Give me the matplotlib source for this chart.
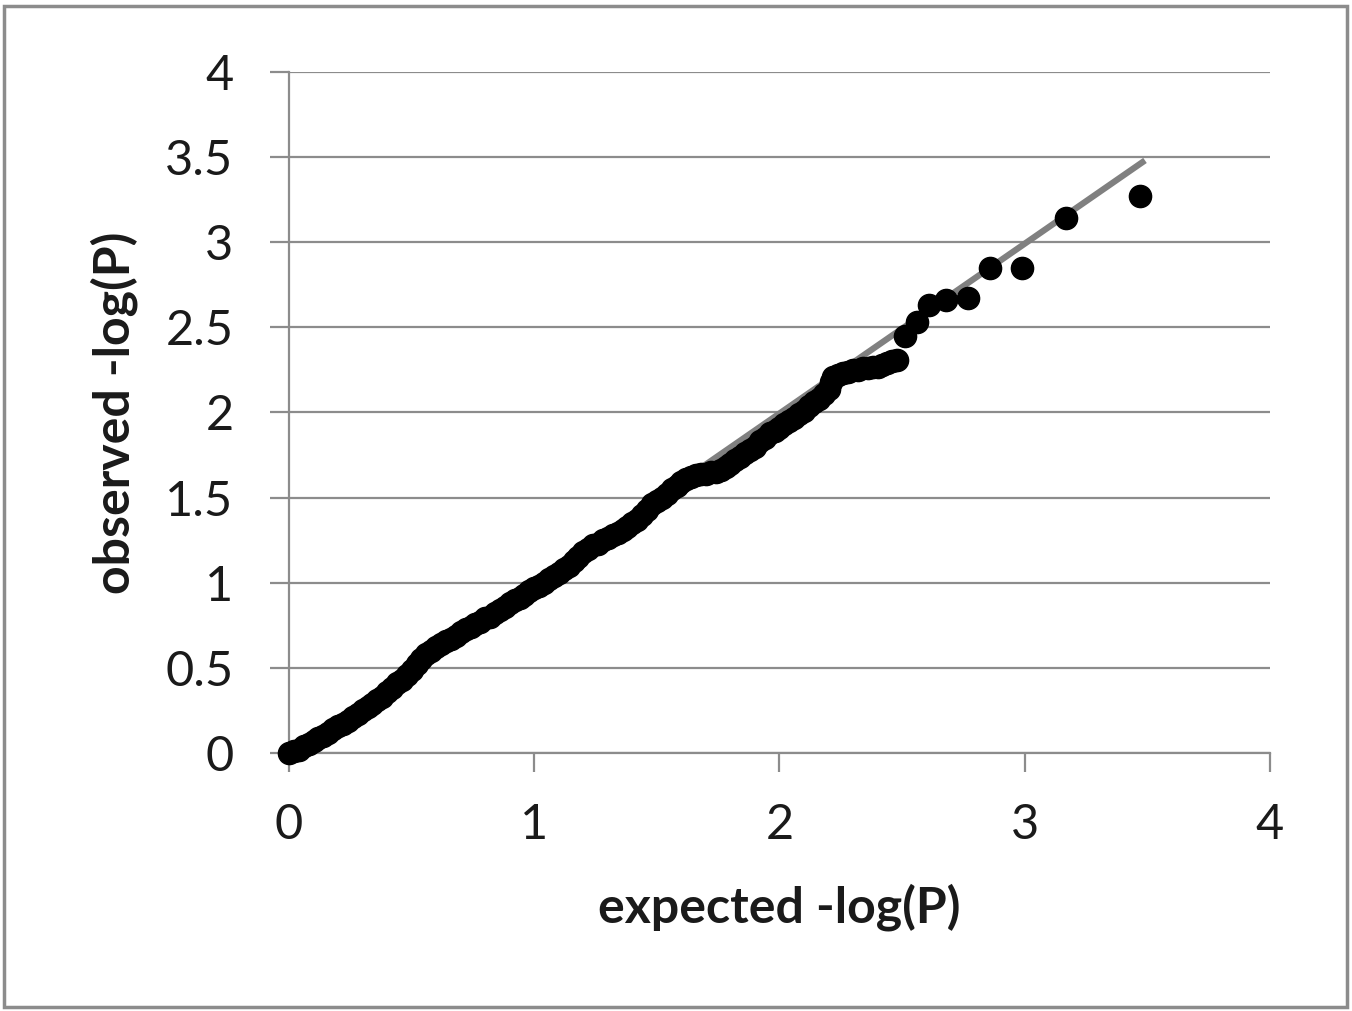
import matplotlib.pyplot as plt
from matplotlib.patches import Rectangle

# expected vs observed -log(P)
expected = [0.00, 0.02, 0.04, 0.06, 0.08, 0.10, 0.12, 0.14, 0.16, 0.18,
            0.20, 0.22, 0.24, 0.26, 0.28, 0.30, 0.32, 0.34, 0.36, 0.38,
            0.40, 0.42, 0.44, 0.46, 0.48, 0.50, 0.52, 0.54, 0.56, 0.58,
            0.60, 0.62, 0.64, 0.66, 0.68, 0.70, 0.72, 0.74, 0.76, 0.78,
            0.80, 0.82, 0.84, 0.86, 0.88, 0.90, 0.92, 0.94, 0.96, 0.98,
            1.00, 1.02, 1.04, 1.06, 1.08, 1.10, 1.12, 1.14, 1.16, 1.18,
            1.20, 1.22, 1.24, 1.26, 1.28, 1.30, 1.32, 1.34, 1.36, 1.38,
            1.40, 1.42, 1.44, 1.46, 1.48, 1.50, 1.52, 1.54, 1.56, 1.58,
            1.60, 1.62, 1.64, 1.66, 1.68, 1.70, 1.72, 1.74, 1.76, 1.78,
            1.80, 1.82, 1.84, 1.86, 1.88, 1.90, 1.92, 1.94, 1.96, 1.98,
            2.00, 2.02, 2.04, 2.06, 2.08, 2.10, 2.12, 2.14, 2.16, 2.18,
            2.20, 2.21, 2.22, 2.24, 2.26, 2.28, 2.30, 2.32, 2.34, 2.36,
            2.38, 2.40, 2.42, 2.44, 2.46, 2.48,
            2.51, 2.56, 2.61, 2.68, 2.77, 2.86, 2.99, 3.17, 3.47]
observed = [0.00, 0.01, 0.02, 0.04, 0.05, 0.07, 0.09, 0.10, 0.12, 0.14,
            0.16, 0.17, 0.19, 0.21, 0.23, 0.25, 0.27, 0.29, 0.31, 0.33,
            0.36, 0.38, 0.41, 0.43, 0.46, 0.49, 0.52, 0.55, 0.58, 0.60,
            0.62, 0.64, 0.66, 0.67, 0.69, 0.71, 0.73, 0.74, 0.76, 0.77,
            0.79, 0.80, 0.82, 0.84, 0.86, 0.88, 0.90, 0.91, 0.93, 0.95,
            0.97, 0.98, 1.00, 1.02, 1.04, 1.06, 1.08, 1.10, 1.13, 1.15,
            1.18, 1.20, 1.22, 1.23, 1.25, 1.26, 1.28, 1.29, 1.31, 1.33,
            1.35, 1.37, 1.40, 1.43, 1.46, 1.48, 1.50, 1.52, 1.55, 1.57,
            1.59, 1.61, 1.62, 1.63, 1.64, 1.64, 1.65, 1.65, 1.66, 1.68,
            1.70, 1.72, 1.74, 1.76, 1.78, 1.80, 1.83, 1.85, 1.88, 1.89,
            1.91, 1.93, 1.95, 1.97, 1.99, 2.01, 2.04, 2.06, 2.08, 2.11,
            2.14, 2.18, 2.21, 2.22, 2.23, 2.24, 2.25, 2.25, 2.26, 2.26,
            2.27, 2.27, 2.28, 2.29, 2.30, 2.31,
            2.45, 2.53, 2.63, 2.66, 2.67, 2.85, 2.85, 3.14, 3.27]

# reference line y = x
ref_x = [0.0, 3.48]
ref_y = [0.0, 3.47]

ticks_x = [0, 1, 2, 3, 4]
ticks_y = [0, 0.5, 1, 1.5, 2, 2.5, 3, 3.5, 4]
tick_labels_y = ['0', '0.5', '1', '1.5', '2', '2.5', '3', '3.5', '4']

plt.rcParams['font.family'] = ['Lato', 'DejaVu Sans']

fig = plt.figure(figsize=(13.52, 10.11), dpi=100)
ax = fig.add_axes([0.2138, 0.2552, 0.7255, 0.6736])

grid_col = '#8c8c8c'

ax.plot(ref_x, ref_y, color='#808080', linewidth=4.5, zorder=2)
ax.plot(expected, observed, linestyle='none', marker='o', markersize=16,
        color='black', zorder=3, clip_on=False)

ax.set_xlim(0, 4)
ax.set_ylim(0, 4)
ax.set_xticks(ticks_x)
ax.set_yticks(ticks_y)
ax.set_yticklabels(tick_labels_y)

ax.yaxis.grid(True, color=grid_col, linewidth=1.6, zorder=1)
ax.set_axisbelow(True)

for side in ['top', 'right']:
    ax.spines[side].set_visible(False)
for side in ['left', 'bottom']:
    ax.spines[side].set_color(grid_col)
    ax.spines[side].set_linewidth(1.6)

ax.tick_params(axis='both', colors=grid_col, width=1.6, length=14,
               labelcolor='#1a1a1a', labelsize=35)
ax.tick_params(axis='x', pad=22)
ax.tick_params(axis='y', pad=26)

ax.set_xlabel('expected -log(P)', fontsize=36, fontweight='bold',
              color='#1a1a1a', labelpad=26)
ax.set_ylabel('observed -log(P)', fontsize=36, fontweight='bold',
              color='#1a1a1a', labelpad=20)

# gray frame around the whole picture
fig.patches.append(Rectangle((0.003, 0.004), 0.993, 0.99, transform=fig.transFigure,
                             fill=False, edgecolor='#8c8c8c', linewidth=2.5))

fig.savefig('out.png', dpi=100)
